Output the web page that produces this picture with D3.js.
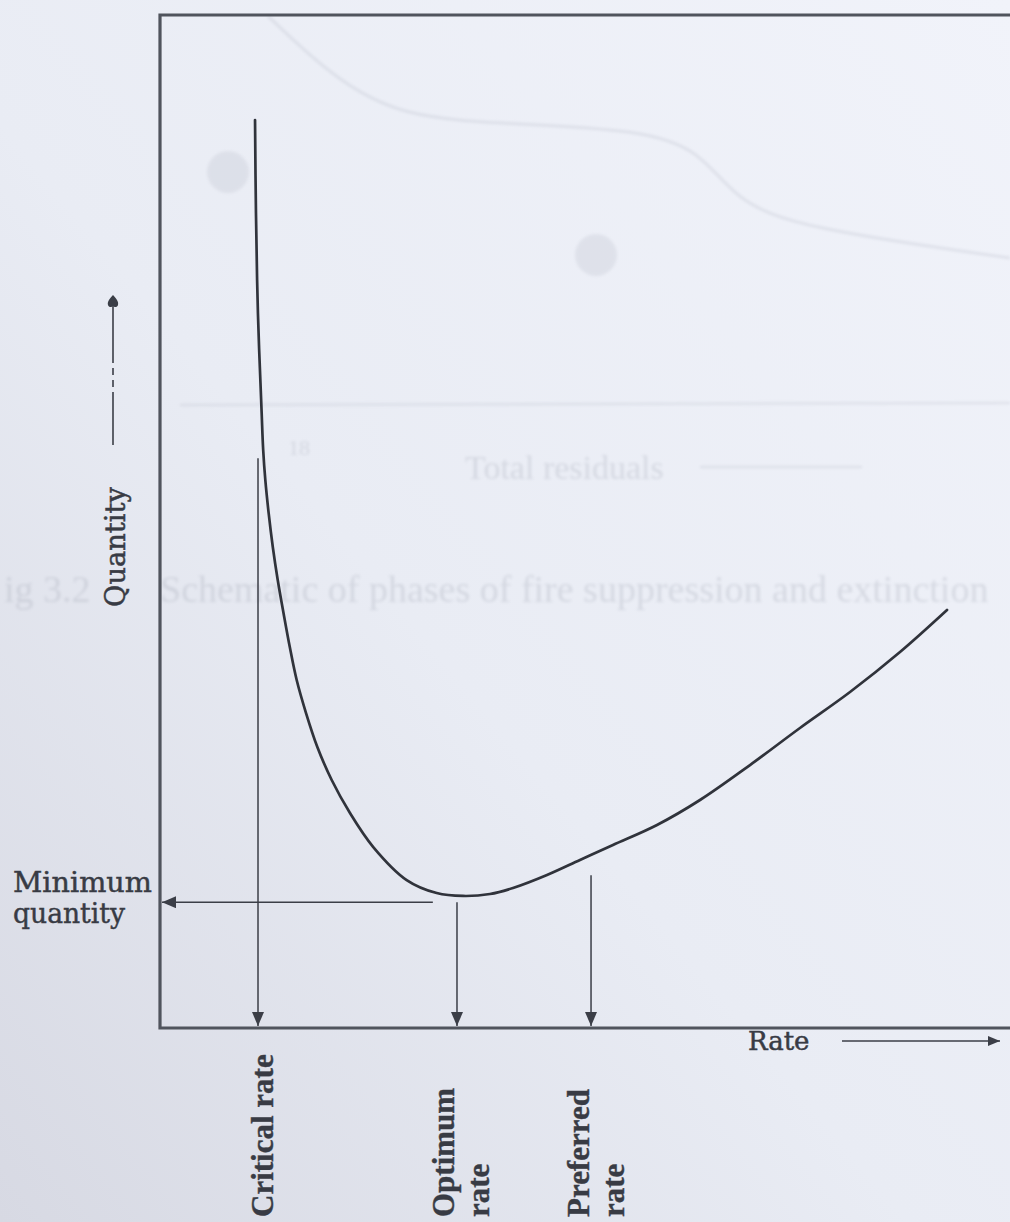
<!DOCTYPE html>
<html>
<head>
<meta charset="utf-8">
<script src="https://cdn.jsdelivr.net/npm/d3@7"></script>
<style>
  html, body { margin: 0; padding: 0; background: #e8ebf3; }
  svg { display: block; }
</style>
</head>
<body>
<svg id="chart" width="1010" height="1222"></svg>
<script>
// Quantity required as a function of application rate
const rates      = [1.118, 1.129, 1.152, 1.196, 1.214, 1.239, 1.278, 1.327, 1.385, 1.453, 1.527, 1.608, 1.718, 1.851, 2.020, 2.235, 2.509, 2.902, 3.255, 3.565, 3.882, 4.153, 4.553, 4.941, 5.329, 5.847, 6.353, 6.941, 7.529, 8.118, 8.706, 9.259];
const quantities = [10.756, 9.654, 8.470, 7.285, 6.847, 6.492, 6.101, 5.698, 5.307, 4.916, 4.513, 4.122, 3.731, 3.329, 2.938, 2.547, 2.144, 1.753, 1.599, 1.564, 1.587, 1.658, 1.812, 1.990, 2.168, 2.405, 2.701, 3.115, 3.554, 3.980, 4.454, 4.952];

// Marked rates on the horizontal axis
const markerLabels = [["Critical rate"], ["Optimum", "rate"], ["Preferred", "rate"]];
const markerRates  = [1.153, 3.494, 5.071];
const markerFrom   = [6.75, 1.49, 1.81];

// Minimum quantity
const minimumQuantity = 1.49;
const minimumFromRate = 3.21;
const minimumLabel = ["Minimum", "quantity"];

const xTitle = "Rate";
const yTitle = "Quantity";

// faint print showing through from the facing sheet
const showThroughText = [
  { t: "Total residuals", x: 465, y: 479, s: 34 },
  { t: "18", x: 288, y: 455, s: 22 },
  { t: "ig 3.2", x: 4, y: 602, s: 38 },
  { t: "Schematic of phases of fire suppression and extinction", x: 160, y: 602, s: 38 }
];

const svg = d3.select("#chart");
const W = 1010, H = 1222;

const x = d3.scaleLinear().domain([0, 10]).range([160, 1010]);
const y = d3.scaleLinear().domain([0, 12]).range([1028, 15]);

const ink = "#3b3e47";
const frameInk = "#50545d";

// paper tone
const defs = svg.append("defs");
const grad = defs.append("linearGradient").attr("id", "paper")
  .attr("x1", "1").attr("y1", "0").attr("x2", "0").attr("y2", "1");
grad.append("stop").attr("offset", "0").attr("stop-color", "#f1f3fa");
grad.append("stop").attr("offset", "0.55").attr("stop-color", "#e9ecf4");
grad.append("stop").attr("offset", "1").attr("stop-color", "#d7d9e3");
svg.append("rect").attr("width", W).attr("height", H).attr("fill", "url(#paper)");

defs.append("filter").attr("id", "soft").append("feGaussianBlur").attr("stdDeviation", 1.6);

// show-through layer
const ghost = svg.append("g").attr("filter", "url(#soft)").attr("opacity", 0.24)
  .attr("fill", "none").attr("stroke", "#9ea3b2");
ghost.append("path").attr("stroke-width", 2.5)
  .attr("d", d3.line().curve(d3.curveBasis)([[268, 16], [330, 75], [400, 118], [520, 124], [640, 130], [700, 150], [735, 200], [800, 228], [1010, 258]]));
ghost.append("line").attr("x1", 180).attr("x2", 1010).attr("y1", 405).attr("y2", 403).attr("stroke-width", 2);
ghost.append("line").attr("x1", 700).attr("x2", 862).attr("y1", 467).attr("y2", 467).attr("stroke-width", 2);
[[228, 172], [596, 255]].forEach(([cx, cy]) => {
  ghost.append("circle").attr("cx", cx).attr("cy", cy).attr("r", 21).attr("fill", "#b4b8c5").attr("stroke", "none");
});
showThroughText.forEach(d => {
  ghost.append("text").attr("x", d.x).attr("y", d.y)
    .attr("font-family", "'Liberation Serif', serif").attr("font-size", d.s)
    .attr("fill", "#8f94a3").attr("stroke", "none").text(d.t);
});

// arrowheads
function marker(id, w, h) {
  defs.append("marker").attr("id", id)
    .attr("viewBox", `0 0 ${w} ${h}`).attr("refX", w).attr("refY", h / 2)
    .attr("markerWidth", w).attr("markerHeight", h)
    .attr("markerUnits", "userSpaceOnUse").attr("orient", "auto")
    .append("path").attr("d", `M0,0L${w},${h / 2}L0,${h}Z`).attr("fill", ink);
}
marker("head", 14, 12);
marker("headSmall", 12, 10);

// plot frame (left, top and bottom edges; the right edge runs off the sheet)
const x0 = x.range()[0], yTop = y.range()[1], yBot = y.range()[0];
svg.append("path")
  .attr("d", `M${W + 20},${yTop}H${x0}V${yBot}H${W + 20}`)
  .attr("fill", "none").attr("stroke", frameInk).attr("stroke-width", 3.2);

// the curve
const line = d3.line().x((d, i) => x(rates[i])).y(d => y(d)).curve(d3.curveCatmullRom.alpha(0.5));
svg.append("path").datum(quantities)
  .attr("d", line)
  .attr("fill", "none").attr("stroke", "#30333b").attr("stroke-width", 2.7)
  .attr("stroke-linecap", "round");

// rate markers dropping to the axis
svg.selectAll("line.rate").data(markerRates).join("line").attr("class", "rate")
  .attr("x1", d => x(d)).attr("x2", d => x(d))
  .attr("y1", (d, i) => y(markerFrom[i])).attr("y2", yBot - 2)
  .attr("stroke", ink).attr("stroke-width", 1.5)
  .attr("marker-end", "url(#head)");

// minimum quantity marker running to the vertical axis
svg.append("line")
  .attr("x1", x(minimumFromRate)).attr("x2", x0 + 2)
  .attr("y1", y(minimumQuantity)).attr("y2", y(minimumQuantity))
  .attr("stroke", ink).attr("stroke-width", 1.5)
  .attr("marker-end", "url(#head)");

// labels under the axis, read bottom to top
const capH = 24, lead = 35;
const serifBold = "'Liberation Serif', 'Times New Roman', serif";
markerRates.forEach((r, i) => {
  const lines = markerLabels[i];
  const block = capH + (lines.length - 1) * lead;
  lines.forEach((t, j) => {
    const bx = x(r) + 3 - block / 2 + capH + j * lead;
    svg.append("text")
      .attr("transform", `translate(${bx},1217) rotate(-90)`)
      .attr("font-family", serifBold).attr("font-weight", "bold")
      .attr("font-size", 31).attr("fill", "#383b44")
      .attr("stroke", "#383b44").attr("stroke-width", 0.4)
      .text(t);
  });
});

// minimum quantity label
const serif = "'DejaVu Serif', serif";
minimumLabel.forEach((t, j) => {
  svg.append("text").attr("x", 13).attr("y", 892 + j * 31)
    .attr("font-family", serif).attr("font-size", 27).attr("fill", "#383b44")
    .attr("stroke", "#383b44").attr("stroke-width", 0.45)
    .attr("textLength", j === 0 ? 139 : 112).attr("lengthAdjust", "spacingAndGlyphs")
    .text(t);
});

// vertical axis title with its arrow
svg.append("text")
  .attr("transform", "translate(125,607) rotate(-90)")
  .attr("font-family", serif).attr("font-size", 27).attr("fill", "#383b44")
  .attr("stroke", "#383b44").attr("stroke-width", 0.5)
  .attr("textLength", 120).attr("lengthAdjust", "spacingAndGlyphs")
  .text(yTitle);
const qArrow = svg.append("g").attr("stroke", ink).attr("stroke-width", 1.6);
qArrow.append("line").attr("x1", 113).attr("x2", 113).attr("y1", 303).attr("y2", 356);
qArrow.append("line").attr("x1", 113).attr("x2", 113).attr("y1", 356).attr("y2", 398).attr("stroke-dasharray", "7,5");
qArrow.append("line").attr("x1", 113).attr("x2", 113).attr("y1", 398).attr("y2", 445);
svg.append("path").attr("fill", ink)
  .attr("d", "M113,295 C116,298 119,302 118,305 C117,308 114,307 113,306 C112,307 109,308 108,305 C107,302 110,298 113,295 Z");

// horizontal axis title with its arrow
svg.append("text").attr("x", 748).attr("y", 1050)
  .attr("font-family", serif).attr("font-size", 26).attr("fill", "#383b44")
  .attr("stroke", "#383b44").attr("stroke-width", 0.5)
  .text(xTitle);
svg.append("line").attr("x1", 842).attr("x2", 1000).attr("y1", 1041).attr("y2", 1041)
  .attr("stroke", ink).attr("stroke-width", 1.6).attr("marker-end", "url(#headSmall)");
</script>
</body>
</html>
